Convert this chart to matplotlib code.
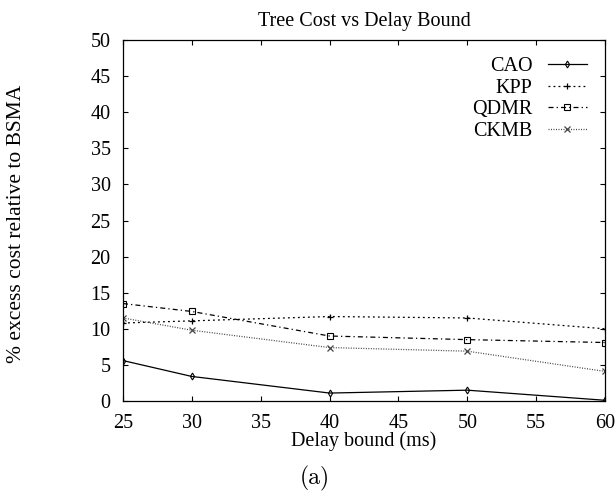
import matplotlib
matplotlib.use('Agg')
import matplotlib.pyplot as plt

delay = [25, 30, 40, 50, 60]
cao = [5.6, 3.4, 1.1, 1.5, 0.1]
kpp = [10.8, 11.1, 11.7, 11.5, 10.0]
qdmr = [13.5, 12.4, 9.0, 8.5, 8.1]
ckmb = [11.5, 9.8, 7.4, 6.9, 4.1]

plt.rcParams['font.family'] = ['Liberation Serif', 'DejaVu Serif']

fig = plt.figure(figsize=(6.16, 4.96), dpi=100)
# axes box in pixels: left 123, right 605, top 40, bottom 401
ax = fig.add_axes([123/616, 1-401/496, (605-123)/616, (401-40)/496])

ax.plot(delay, cao, color='black', lw=0.9, ls='-', marker='d', ms=3.5, mfc='none', mew=0.8, label='CAO')
ax.plot(delay, kpp, color='black', lw=0.9, ls=(0, (1.5, 2.5)), marker='+', ms=5, mew=0.9, label='KPP')
ax.plot(delay, qdmr, color='black', lw=0.9, ls=(0, (4, 2.5, 1, 2.5)), marker='s', ms=4, mfc='none', mew=0.8, label='QDMR')
ax.plot(delay, ckmb, color='#444444', lw=0.9, ls=(0, (0.8, 1.2)), marker='x', ms=4, mew=0.9, label='CKMB')

ax.set_xlim(25, 60)
ax.set_ylim(0, 50)
ax.set_xticks(range(25, 61, 5))
ax.set_yticks(range(0, 51, 5))
ax.tick_params(direction='in', top=True, right=True, labelsize=14.5, length=3.5, width=0.8)
ax.tick_params(axis='x', pad=9)
ax.tick_params(axis='y', pad=9)
for s in ax.spines.values():
    s.set_linewidth(0.9)

ax.set_title('Tree Cost vs Delay Bound', fontsize=14.5, pad=10)
ax.set_xlabel('Delay bound (ms)', fontsize=14.5, labelpad=-1)
ax.set_ylabel('% excess cost relative to BSMA', fontsize=15.5, va='center')
ax.yaxis.set_label_coords((17-123)/482, (401-224)/361)

ax.legend(loc='upper right', frameon=False, markerfirst=False, fontsize=14.5,
          handlelength=1.95, handletextpad=0.75, labelspacing=0.12,
          borderpad=0, borderaxespad=0,
          bbox_to_anchor=((587-123)/482, (401-57)/361))

fig.text(315/616, 1-478/496, '(a)', fontsize=17, family='cmr10', ha='center', va='center')

fig.savefig('out.png', dpi=100)
